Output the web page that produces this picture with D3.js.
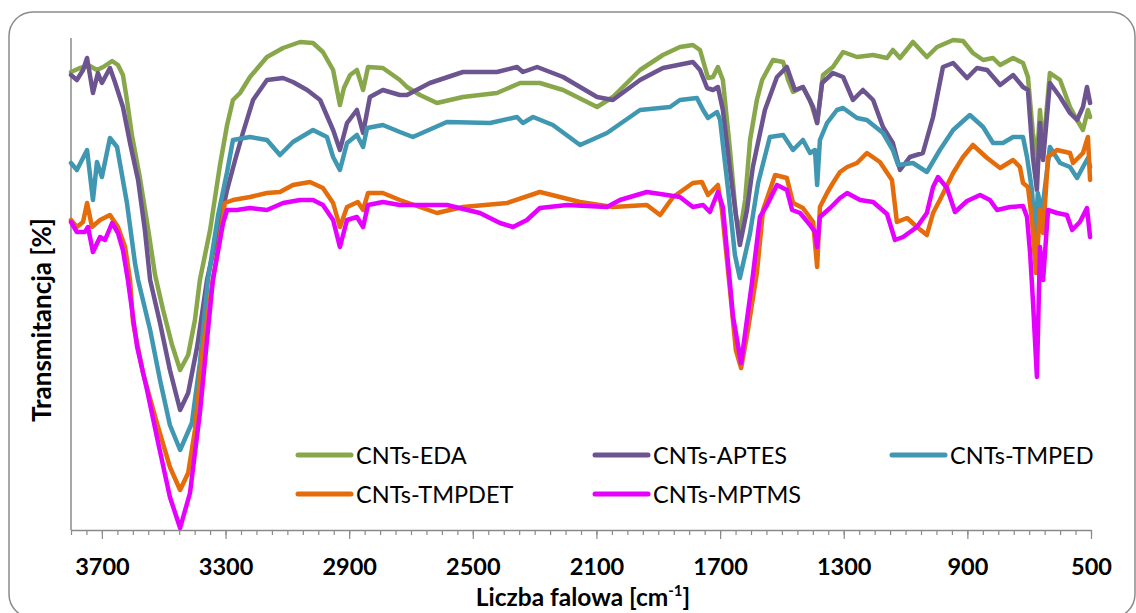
<!DOCTYPE html>
<html><head><meta charset="utf-8">
<script src="https://cdn.jsdelivr.net/npm/d3@7"></script>
<style>html,body{margin:0;padding:0;background:#fff;}svg{display:block;font-family:Lato,"Open Sans",sans-serif;}</style>
</head><body>
<script>
// ---- data (wavenumber cm^-1, transmittance a.u.) ----
const seriesNames = ["CNTs-EDA","CNTs-APTES","CNTs-TMPED","CNTs-TMPDET","CNTs-MPTMS"];
const seriesColors = ["#88a74b","#6c5491","#3f97b1","#e46c0a","#e600ff"];
const xTicks = [3700,3300,2900,2500,2100,1700,1300,900,500];
const xTitle = "Liczba falowa [cm";
const yTitle = "Transmitancja [%]";

const eda = [[3800,91.6],[3771,92.4],[3739,92.8],[3716,92],[3696,92.6],[3667,93.8],[3648,93],[3632,91],[3619,86],[3603,79],[3577,70.4],[3551,60.4],[3528,51],[3502,44],[3473,37],[3447,32],[3421,35],[3399,42],[3383,50],[3350,60],[3318,73],[3295,81],[3276,86],[3253,87.4],[3221,90.6],[3166,94.6],[3114,96.4],[3059,97.6],[3017,97.4],[2985,95.6],[2952,92],[2930,85],[2917,88.4],[2897,91],[2875,92],[2855,88],[2839,92.6],[2791,92.4],[2736,90],[2713,88.6],[2671,87],[2616,85.4],[2532,86.6],[2422,87.4],[2347,89.4],[2283,89.4],[2208,88],[2098,84.6],[2047,86.6],[1959,92],[1885,95],[1830,96.6],[1788,97],[1765,96],[1739,90.4],[1723,90.6],[1707,92.6],[1691,90],[1668,76],[1649,63],[1636,59.4],[1619,66],[1603,78],[1581,86],[1564,90],[1529,94],[1496,93.6],[1480,90],[1464,87.6],[1432,88.6],[1409,86],[1386,81.4],[1367,91],[1335,92.6],[1302,95.6],[1257,94.6],[1205,95],[1160,94.4],[1141,96],[1118,94.4],[1076,97.6],[1031,94.6],[998,96.6],[946,98],[914,97.8],[882,95.4],[849,94],[817,94.4],[794,93],[752,94.4],[720,93.4],[704,90.6],[688,79.4],[675,74],[665,84],[655,76],[633,91.4],[600,90],[568,84.6],[545,82],[526,80],[510,84],[503,82.6]];

const aptes = [[3800,91],[3781,90],[3761,92],[3748,94.4],[3729,87.4],[3713,91.4],[3700,89.4],[3674,92.4],[3658,89.6],[3632,84.6],[3609,77.4],[3583,70],[3561,60],[3544,50],[3512,41.4],[3480,32],[3447,24],[3421,27.4],[3392,36.6],[3360,50],[3318,61.6],[3295,68],[3269,74],[3244,79.4],[3211,86],[3166,90],[3114,90.4],[3082,89.6],[3036,88],[2994,86],[2952,80],[2930,76],[2907,81.4],[2875,84],[2855,79.4],[2833,86.6],[2791,88],[2736,87],[2713,87],[2639,89.4],[2532,91.6],[2422,91.6],[2357,92.6],[2338,91.6],[2292,92.6],[2208,90.6],[2098,86.6],[2047,86],[1959,90],[1885,92.4],[1788,93.6],[1765,92],[1742,88.4],[1723,88],[1707,88.6],[1691,84],[1668,72],[1636,57],[1613,64],[1594,72.6],[1555,84],[1516,90.6],[1484,92.6],[1458,88],[1432,88.6],[1399,84.6],[1386,81.4],[1370,89.4],[1335,91.4],[1302,90.6],[1270,86],[1238,88],[1205,86],[1173,80.6],[1141,77.4],[1118,72],[1086,74.6],[1044,75.4],[1011,82.6],[979,92.6],[946,93.4],[901,90.4],[869,92.4],[836,92],[794,89],[752,91],[720,88.6],[704,88],[688,74.6],[675,68],[665,81.4],[655,74],[633,89.4],[600,86.6],[568,83.4],[545,82],[526,84.6],[513,88.6],[503,85.4]];

const tmped = [[3800,73.4],[3781,72],[3748,76],[3729,66],[3716,73.6],[3700,70.6],[3674,78.4],[3651,76.6],[3619,65.4],[3593,53.4],[3583,50],[3544,40],[3512,30],[3480,21],[3447,16],[3409,21.4],[3383,33.4],[3357,50],[3324,63],[3295,71.6],[3276,78],[3221,78.6],[3166,78],[3124,75],[3082,77.6],[3017,80],[2972,78.6],[2952,74.6],[2930,72],[2907,77.4],[2875,79],[2855,76.6],[2842,80.4],[2791,81],[2736,79.6],[2694,78.6],[2584,81.6],[2444,81.4],[2357,82.6],[2338,81.4],[2305,82.6],[2241,81],[2153,77],[2066,79.4],[1959,84],[1862,84.6],[1830,86],[1775,86.4],[1755,84],[1739,82.4],[1710,83.6],[1700,82],[1674,68],[1652,55],[1636,50.4],[1603,59.4],[1577,69.4],[1539,78.6],[1496,79],[1464,76],[1432,78],[1409,75.4],[1393,76],[1386,69],[1377,78],[1354,81.4],[1322,84],[1302,84.4],[1257,82.4],[1225,82],[1173,79.4],[1141,76],[1124,73],[1076,73.4],[1031,71.6],[989,76],[946,80],[892,83],[849,80.6],[817,77.4],[785,77.4],[752,78.6],[720,78.6],[707,74.6],[691,68],[681,58],[672,67.4],[659,63.4],[633,76.6],[600,73.4],[568,72.6],[545,70.4],[526,72.6],[510,74.4],[503,72.6]];

const tmpdet = [[3800,62],[3781,60.6],[3761,61.6],[3748,65.4],[3732,60.6],[3706,62],[3674,63],[3648,60.6],[3625,56.6],[3609,50],[3599,41.4],[3567,31.4],[3522,21.4],[3480,12.6],[3447,8],[3421,11.4],[3399,20],[3373,36.6],[3341,50],[3318,58.6],[3302,65.4],[3276,66],[3221,66.6],[3166,67.4],[3124,67.6],[3082,69],[3027,69.6],[2985,68.4],[2952,65.4],[2930,60.6],[2907,64.6],[2872,65.6],[2855,64],[2839,67.4],[2791,67.4],[2736,66],[2616,63.4],[2532,64.6],[2389,65.4],[2283,67.6],[2153,65.6],[2047,64.6],[1937,65],[1894,63],[1852,66.6],[1788,69.4],[1759,69.6],[1739,67],[1707,69],[1694,64],[1668,48],[1649,36],[1632,32.4],[1610,40],[1581,51.4],[1561,64],[1522,71],[1484,70.4],[1464,65.4],[1432,64.4],[1399,61.6],[1386,52.6],[1377,64.6],[1354,67.4],[1335,69.4],[1312,71.6],[1289,72.6],[1257,73.4],[1225,75.4],[1183,73.6],[1144,70],[1128,61.6],[1095,62.4],[1063,60.6],[1031,59],[1011,63.4],[989,66],[946,71.4],[914,74.6],[882,77],[836,74.4],[794,72.4],[752,74],[730,72.6],[720,69.4],[704,68.6],[691,62],[678,51.4],[665,64],[655,59.4],[639,74.6],[610,76],[568,75.4],[558,73.4],[526,75.4],[510,78.6],[503,70]];

const mptms = [[3800,61.6],[3781,59.6],[3755,59.6],[3745,60.6],[3729,55.6],[3706,58.6],[3690,58],[3667,61.4],[3648,59.4],[3632,56],[3616,50],[3586,36.6],[3554,28],[3522,18.6],[3480,6.6],[3447,0.4],[3415,7.4],[3383,23.4],[3341,50],[3308,61.4],[3295,64],[3263,64],[3221,64.4],[3166,64],[3114,65.4],[3059,66],[3017,66],[2985,65],[2952,62],[2930,56.6],[2907,62],[2875,62.6],[2855,60.6],[2839,65],[2791,65.6],[2736,65],[2694,65],[2584,65],[2477,63.4],[2412,61.4],[2370,60.6],[2325,62],[2283,64.4],[2195,65],[2066,64.6],[2024,66],[1937,67.6],[1872,67],[1830,66.6],[1788,64.6],[1755,65],[1733,63.6],[1707,67.6],[1691,64.6],[1658,42.6],[1632,33.4],[1597,49.4],[1571,62.6],[1548,65],[1516,69],[1484,68],[1467,64],[1441,63.4],[1409,61],[1393,59.6],[1386,56.6],[1377,62.6],[1344,64.4],[1312,66.4],[1289,67.4],[1247,66],[1205,65.6],[1160,63.2],[1134,58],[1108,58.6],[1063,60.6],[1031,63.4],[1011,68.6],[995,70.6],[966,68.4],[940,63.6],[901,65.8],[859,67],[827,66],[804,64],[762,64.6],[720,64.8],[707,62.6],[697,55.4],[688,46],[675,30.6],[665,56.6],[655,50],[639,64],[610,63.4],[578,63],[561,60],[536,61.6],[513,64.4],[503,58.6]];

const seriesData = [eda, aptes, tmped, tmpdet, mptms];

// ---- drawing ----
const W = 1136, H = 613;
const svg = d3.select("body").append("svg").attr("width", W).attr("height", H);

svg.append("rect").attr("x", 9).attr("y", 12).attr("width", 1126).attr("height", 606)
  .attr("rx", 24).attr("ry", 24).attr("fill", "#fff").attr("stroke", "#8a8a8a").attr("stroke-width", 1.5);

const x = d3.scaleLinear().domain([3800, 500]).range([71, 1091]);
const y = d3.scaleLinear().domain([0, 98.4]).range([530, 38]);

// y axis line
svg.append("line").attr("x1", 71).attr("x2", 71).attr("y1", 38).attr("y2", 530)
  .attr("stroke", "#8a8a8a").attr("stroke-width", 1.5);

// minor ticks
const gMinor = svg.append("g").attr("transform", "translate(0,530)")
  .call(d3.axisBottom(x).tickValues(d3.range(500, 3801, 50)).tickSize(5).tickSizeOuter(0).tickFormat(""));
gMinor.select(".domain").attr("stroke", "#8a8a8a").attr("stroke-width", 1.5);
gMinor.selectAll(".tick line").attr("stroke", "#8a8a8a").attr("stroke-width", 1.2);

// major ticks + labels
const gMajor = svg.append("g").attr("transform", "translate(0,530)")
  .call(d3.axisBottom(x).tickValues(xTicks).tickSize(9).tickSizeOuter(0).tickFormat(d => String(d)));
gMajor.select(".domain").remove();
gMajor.selectAll(".tick line").attr("stroke", "#8a8a8a").attr("stroke-width", 1.2);
gMajor.selectAll(".tick text").attr("y", 45).attr("dy", 0)
  .attr("fill", "#000").style("font-size", "23.5px").style("font-weight", "bold")
  .style("font-family", "Lato, 'Open Sans', sans-serif");

// series
const line = d3.line().x(d => x(d[0])).y(d => y(d[1]));
seriesData.forEach((data, i) => {
  svg.append("path").datum(data).attr("d", line).attr("fill", "none")
    .attr("stroke", seriesColors[i]).attr("stroke-width", 4.5)
    .attr("stroke-linejoin", "round").attr("stroke-linecap", "round");
});

// legend
const legendPos = [[298, 455], [595, 455], [892, 455], [298, 494], [595, 494]];
seriesNames.forEach((name, i) => {
  const [lx, ly] = legendPos[i];
  svg.append("line").attr("x1", lx).attr("x2", lx + 53).attr("y1", ly).attr("y2", ly)
    .attr("stroke", seriesColors[i]).attr("stroke-width", 5).attr("stroke-linecap", "round");
  svg.append("text").attr("x", lx + 58).attr("y", ly + 9).text(name)
    .attr("fill", "#000").style("font-size", "23.5px");
});

// axis titles
const xt = svg.append("text").attr("x", 583).attr("y", 606).attr("text-anchor", "middle")
  .style("font-size", "24.5px").style("font-weight", "bold").attr("fill", "#000");
xt.append("tspan").text(xTitle);
xt.append("tspan").text("-1").attr("dy", -10).style("font-size", "15px");
xt.append("tspan").text("]").attr("dy", 10);

svg.append("text").attr("transform", "translate(51,320) rotate(-90)").attr("text-anchor", "middle")
  .style("font-size", "26px").style("font-weight", "bold").attr("fill", "#000").text(yTitle);
</script>
</body></html>
